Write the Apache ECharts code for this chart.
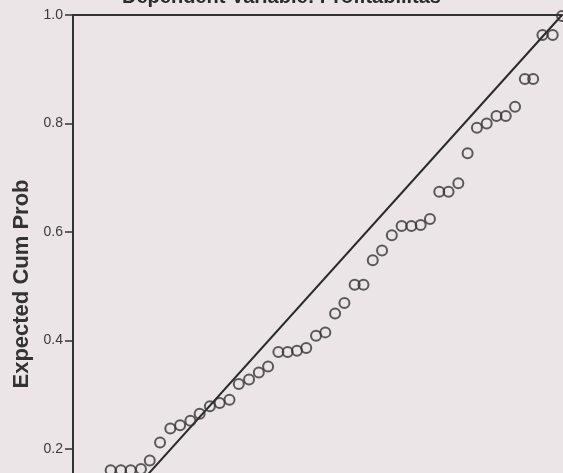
<!DOCTYPE html>
<html>
<head>
<meta charset="utf-8">
<title>Normal P-P Plot of Regression Standardized Residual</title>
<script src="https://cdn.jsdelivr.net/npm/echarts@6/dist/echarts.min.js"></script>
<style>
  html, body { margin: 0; padding: 0; background: #ebe5e8; }
  #chart { width: 563px; height: 473px; }
</style>
</head>
<body>
<div id="chart"></div>
<script>
// Observed vs. expected cumulative probabilities of the standardized residuals
const observedCumProb = [0.077, 0.098, 0.118, 0.139, 0.157, 0.178, 0.199, 0.219, 0.240, 0.259,
  0.280, 0.300, 0.320, 0.339, 0.360, 0.380, 0.399, 0.420, 0.439, 0.458,
  0.477, 0.497, 0.516, 0.536, 0.555, 0.576, 0.594, 0.613, 0.632, 0.652,
  0.672, 0.692, 0.711, 0.730, 0.749, 0.768, 0.788, 0.807, 0.826, 0.846,
  0.866, 0.885, 0.904, 0.924, 0.941, 0.960, 0.981, 1.000];
const expectedCumProb = [0.161, 0.161, 0.161, 0.163, 0.179, 0.212, 0.238, 0.244, 0.252, 0.265,
  0.279, 0.285, 0.291, 0.320, 0.328, 0.341, 0.352, 0.379, 0.379, 0.381,
  0.386, 0.409, 0.415, 0.450, 0.469, 0.503, 0.503, 0.548, 0.566, 0.594,
  0.611, 0.611, 0.613, 0.624, 0.674, 0.674, 0.690, 0.745, 0.792, 0.800,
  0.814, 0.814, 0.831, 0.882, 0.882, 0.963, 0.963, 0.998];
// Reference diagonal (perfect normality)
const diagonal = [[0, 0], [1, 1]];
const yTicks = [0.2, 0.4, 0.6, 0.8, 1.0];
// Lowest probability still inside the visible plot area
const yVisibleMin = 0.1558;
const chartTitle = 'Dependent Variable: Profitabilitas';
const yTitle = 'Expected Cum Prob';

const points = observedCumProb.map((x, i) => [x, expectedCumProb[i]]);

const chart = echarts.init(document.getElementById('chart'), null, { renderer: 'canvas' });
chart.setOption({
  backgroundColor: '#ebe5e8',
  animation: false,
  graphic: [
    {
      type: 'text',
      left: 'center',
      top: -13,
      style: {
        text: chartTitle,
        font: 'bold 20px "Liberation Sans", Arial, sans-serif',
        fill: '#2b2b2b'
      }
    },
    {
      type: 'text',
      x: 22,
      y: 284,
      rotation: Math.PI / 2,
      style: {
        text: yTitle,
        font: 'bold 22px "Liberation Sans", Arial, sans-serif',
        fill: '#333',
        align: 'center',
        verticalAlign: 'middle'
      }
    }
  ],
  grid: { left: 73, right: 1, top: 15, bottom: 0, containLabel: false },
  xAxis: {
    type: 'value', min: 0, max: 1,
    position: 'top',
    axisLine: { show: true, lineStyle: { color: '#333', width: 2 } },
    axisTick: { show: false },
    axisLabel: { show: false },
    splitLine: { show: false }
  },
  yAxis: {
    type: 'value', min: yVisibleMin, max: 1,
    axisLine: { show: true, onZero: false, lineStyle: { color: '#333', width: 2 } },
    axisTick: {
      show: true, inside: false, length: 8, customValues: yTicks,
      lineStyle: { color: '#333', width: 1.5 }
    },
    axisLabel: {
      margin: 10,
      customValues: yTicks,
      fontFamily: '"Liberation Sans", Arial, sans-serif',
      fontSize: 14, color: '#3a3a3a',
      formatter: v => v.toFixed(1)
    },
    splitLine: { show: false }
  },
  series: [
    {
      type: 'line',
      data: diagonal,
      symbol: 'none',
      clip: true,
      lineStyle: { color: '#2a2a2a', width: 2 },
      z: 1
    },
    {
      type: 'scatter',
      data: points,
      symbol: 'circle',
      symbolSize: 10,
      clip: false,
      itemStyle: { color: 'rgba(0,0,0,0)', borderColor: '#353535', borderWidth: 2 },
      z: 2
    }
  ]
});
</script>
</body>
</html>
